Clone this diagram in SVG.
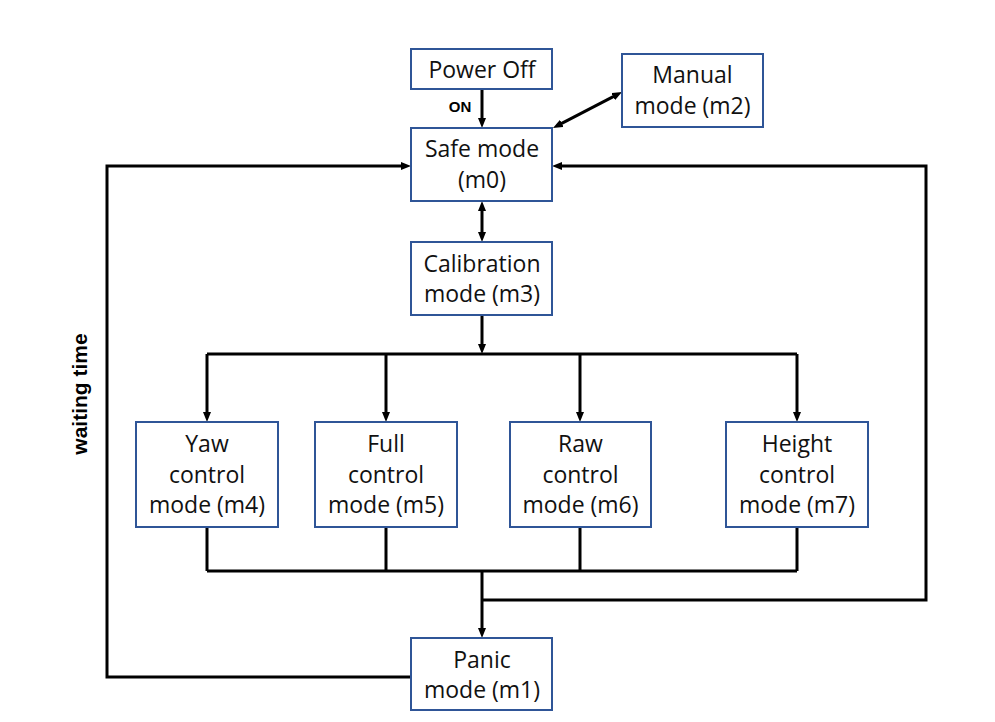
<svg xmlns="http://www.w3.org/2000/svg" width="995" height="722" viewBox="0 0 995 722">
<style>
.box{fill:#fff;stroke:#2F5597;stroke-width:2}
.t{font-family:"Open Sans","Liberation Sans",sans-serif;font-size:23px;fill:#111;text-anchor:middle}
.w{stroke:#000;stroke-width:3;fill:none}
.a{marker-end:url(#ah)}
.b{marker-start:url(#ah);marker-end:url(#ah)}
.lb{font-family:"Liberation Sans",Arial,sans-serif;font-weight:bold;fill:#000}
</style>
<defs>
<marker id="ah" markerUnits="userSpaceOnUse" markerWidth="10" markerHeight="8" refX="5" refY="4" orient="auto-start-reverse" viewBox="0 0 10 8">
<path d="M0,0 L10,4 L0,8 z" fill="#000"/>
</marker>
</defs>
<rect width="995" height="722" fill="#fff"/>
<g id="connectors">
<path class="w a" d="M482 89 V123"/>
<path class="w b" d="M557.4 125.7 L617.6 94.3"/>
<path class="w b" d="M482 206 V237"/>
<path class="w a" d="M482 315 V349"/>
<path class="w" d="M207 354 H797"/>
<path class="w a" d="M207 354 V417"/>
<path class="w a" d="M386 354 V417"/>
<path class="w a" d="M580 354 V417"/>
<path class="w a" d="M797 354 V417"/>
<path class="w" d="M207 527 V571 M386 527 V571 M580 527 V571 M797 527 V571 M207 571 H797"/>
<path class="w a" d="M482 571 V633"/>
<path class="w a" d="M482 600 H926 V166 H557"/>
<path class="w a" d="M411 677 H107 V166 H406"/>
<text class="lb" x="460" y="112" font-size="15" text-anchor="middle">ON</text>
<text class="lb" x="0" y="0" font-size="21" text-anchor="middle" transform="translate(87,394) rotate(-90)">waiting time</text>
</g>
<g id="power-off">
<rect class="box" x="411" y="49" width="141" height="40"/>
<text class="t" x="482" y="78">Power Off</text>
</g>
<g id="manual">
<rect class="box" x="622" y="54" width="141" height="73"/>
<text class="t" x="692.5" y="83">Manual</text>
<text class="t" x="692.5" y="114">mode (m2)</text>
</g>
<g id="safe">
<rect class="box" x="411" y="128" width="141" height="73"/>
<text class="t" x="482" y="157">Safe mode</text>
<text class="t" x="482" y="188">(m0)</text>
</g>
<g id="calibration">
<rect class="box" x="411" y="242" width="141" height="73"/>
<text class="t" x="482" y="272">Calibration</text>
<text class="t" x="482" y="302">mode (m3)</text>
</g>
<g id="yaw">
<rect class="box" x="136" y="422" width="142" height="105"/>
<text class="t" x="207" y="452">Yaw</text>
<text class="t" x="207" y="483">control</text>
<text class="t" x="207" y="513">mode (m4)</text>
</g>
<g id="full">
<rect class="box" x="315" y="422" width="142" height="105"/>
<text class="t" x="386" y="452">Full</text>
<text class="t" x="386" y="483">control</text>
<text class="t" x="386" y="513">mode (m5)</text>
</g>
<g id="raw">
<rect class="box" x="510" y="422" width="141" height="105"/>
<text class="t" x="580.5" y="452">Raw</text>
<text class="t" x="580.5" y="483">control</text>
<text class="t" x="580.5" y="513">mode (m6)</text>
</g>
<g id="height">
<rect class="box" x="726" y="422" width="142" height="105"/>
<text class="t" x="797" y="452">Height</text>
<text class="t" x="797" y="483">control</text>
<text class="t" x="797" y="513">mode (m7)</text>
</g>
<g id="panic">
<rect class="box" x="411" y="638" width="141" height="72"/>
<text class="t" x="482" y="668">Panic</text>
<text class="t" x="482" y="698">mode (m1)</text>
</g>
</svg>
